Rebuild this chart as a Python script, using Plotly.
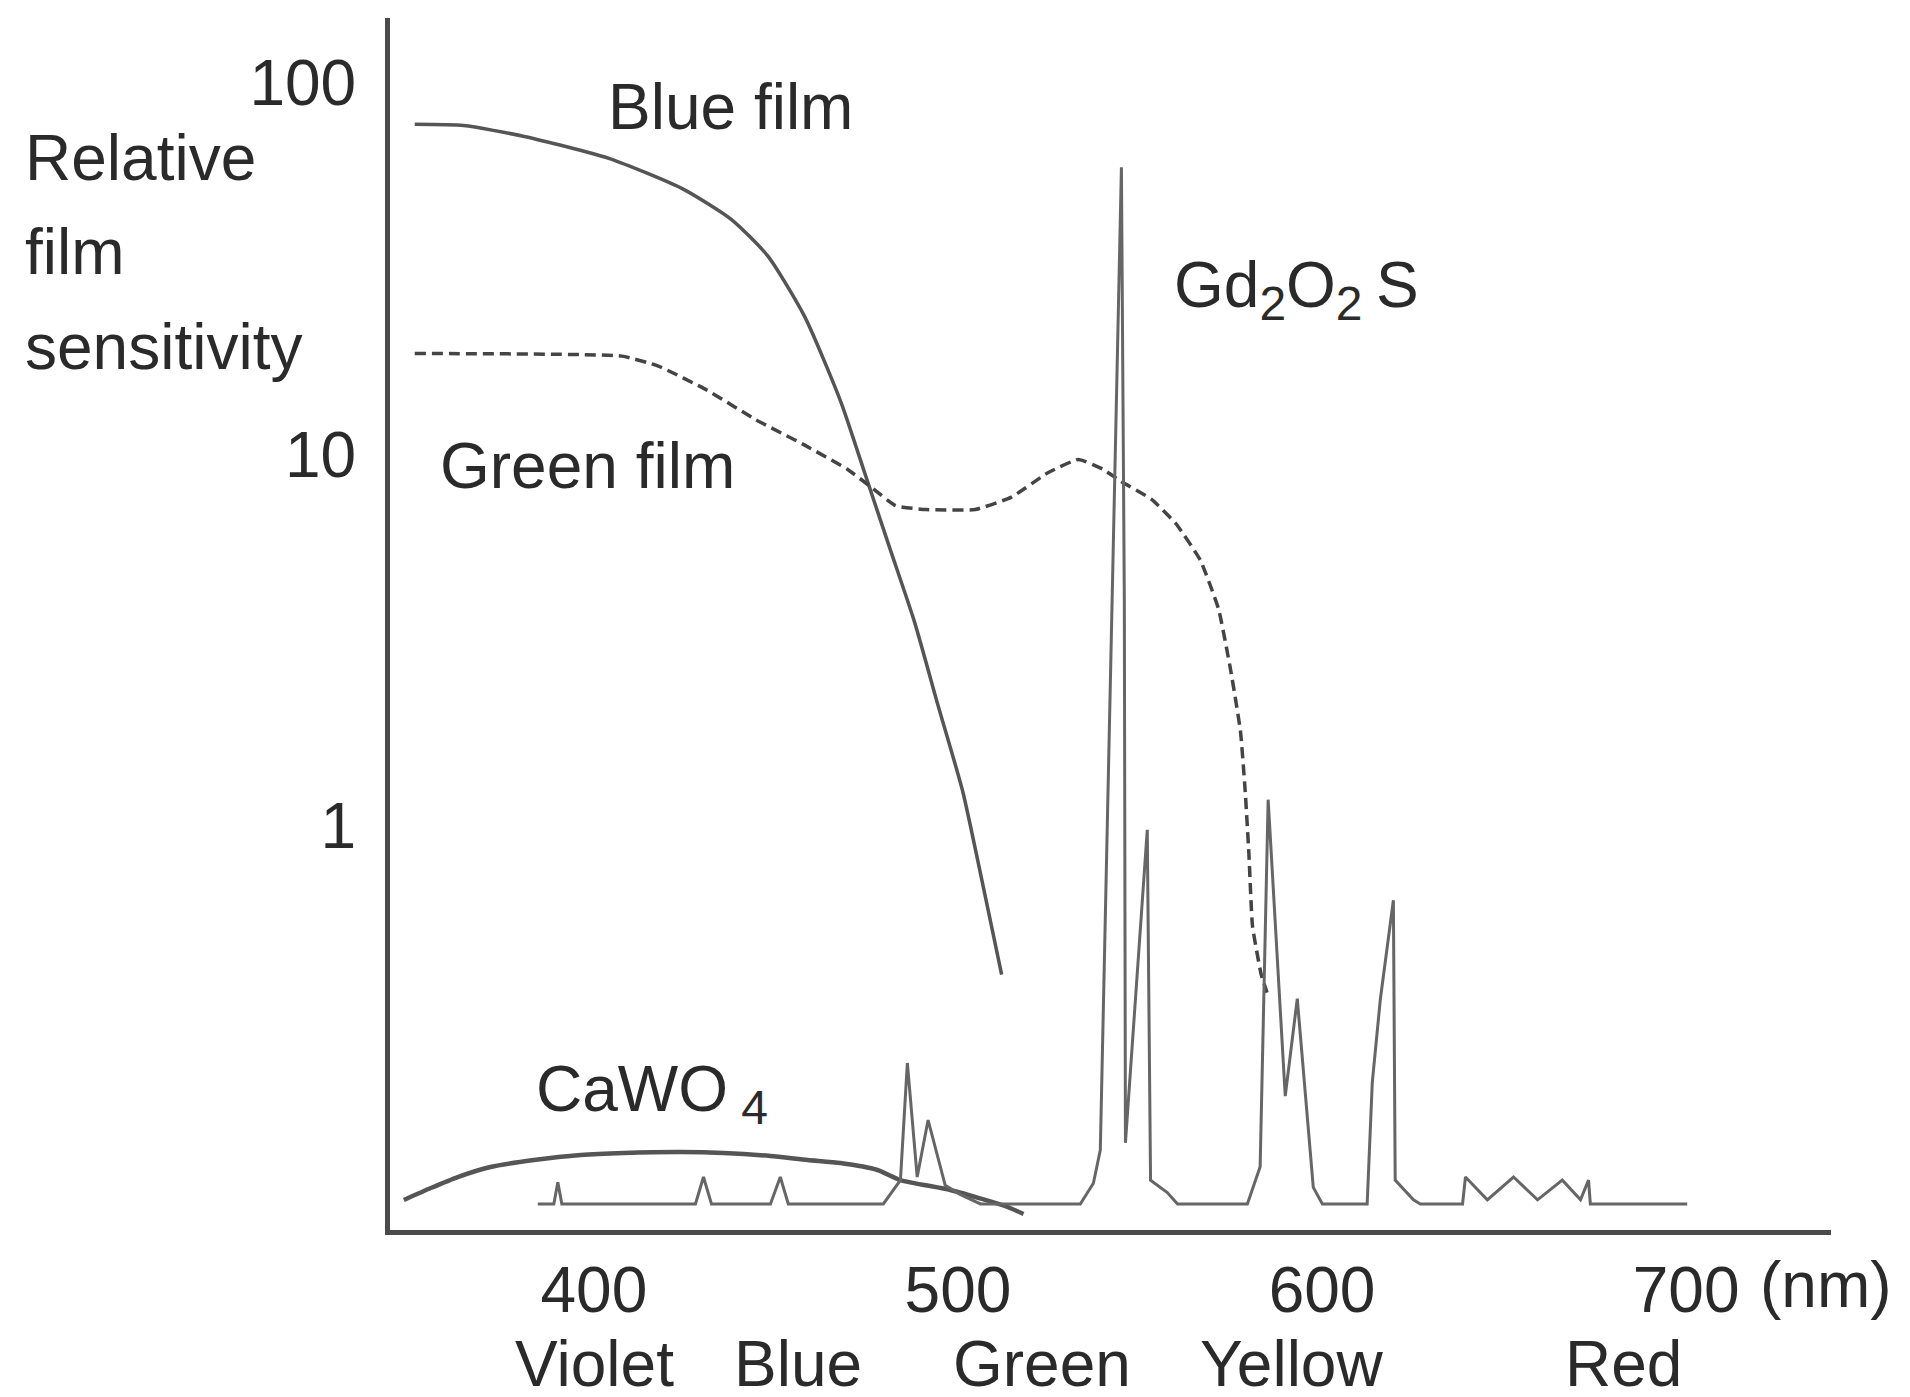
import plotly.graph_objects as go

# ---------------- data ----------------
# Film sensitivity curves: wavelength (nm) vs relative sensitivity (log axis)
blue_film_nm = [350.8, 364.2, 380.9, 404.3, 424.4, 437.8, 447.8, 457.9, 467.9,
                474.6, 481.3, 488.0, 494.6, 501.3, 506.4, 512.0]
blue_film_val = [77.4, 76.8, 71.8, 62.6, 51.9, 42.9, 34.2, 23.5, 13.8,
                 8.79, 5.59, 3.56, 2.10, 1.24, 0.728, 0.398]

green_film_nm = [350.8, 407.7, 417.7, 431.1, 444.5, 457.9, 469.6, 476.3, 482.9,
                 491.3, 504.7, 514.7, 524.7, 533.1, 539.8, 544.8, 553.2, 559.9,
                 566.6, 571.6, 574.9, 577.6, 578.9, 579.9, 580.9, 583.3, 584.9]
green_film_val = [18.7, 18.4, 17.3, 14.9, 12.4, 10.6, 9.13, 8.15, 7.28,
                  7.11, 7.11, 7.68, 8.93, 9.70, 9.13, 8.47, 7.57, 6.51,
                  5.19, 3.83, 2.63, 1.80, 1.24, 0.847, 0.538, 0.398, 0.356]

# Emission spectra (relative intensity, linear secondary axis, tallest peak = 100)
gd2o2s_nm = [384.6, 389.0, 390.1, 391.2, 427.9, 430.1, 432.3, 448.5, 451.2, 453.4,
             479.5, 484.2, 486.1, 488.8, 491.8, 496.5, 500.7, 506.2, 533.6, 537.2,
             539.1, 542.4, 544.9, 545.7, 546.0, 552.0, 552.9, 557.5, 560.3, 579.5,
             583.0, 585.2, 589.9, 593.2, 597.6, 600.1, 612.4, 613.8, 616.0, 619.6,
             620.1, 625.1, 627.0, 638.6, 639.4, 645.4, 652.6, 659.2, 666.0, 671.0,
             673.2, 673.7, 700.3]
gd2o2s_val = [0, 0, 2.1, 0, 0, 2.6, 0, 0, 2.6, 0,
              0, 2.3, 13.6, 2.6, 8.1, 1.8, 0.9, 0, 0, 2.0,
              5.2, 58.2, 100, 58.2, 5.9, 36.1, 2.3, 1.1, 0, 0,
              3.6, 39.0, 10.4, 19.8, 1.6, 0, 0, 11.7, 19.7, 29.3,
              2.3, 0.4, 0, 0, 2.6, 0.4, 2.6, 0.4, 2.3, 0.4,
              2.3, 0, 0]

cawo4_nm = [347.8, 355.2, 362.6, 371.6, 383.5, 396.4, 408.2, 423.8, 435.6,
            448.5, 458.7, 467.7, 477.9, 484.2, 497.9, 507.5, 513.6, 518.0]
cawo4_val = [0.39, 1.54, 2.60, 3.57, 4.24, 4.73, 4.92, 5.01, 4.92,
             4.63, 4.24, 3.95, 3.28, 2.31, 1.35, 0.39, -0.29, -0.96]

x_tick_vals = [400, 500, 600, 700]
x_tick_text = ["400", "500", "600", "700"]
y_tick_vals = [1, 10, 100]
y_tick_text = ["1", "10", "100"]

color_band_names = ["Violet", "Blue", "Green", "Yellow", "Red"]
color_band_nm = [400.3, 456.2, 523.1, 591.6, 682.9]

# ---------------- figure ----------------
FONT = "Liberation Sans, Arial, sans-serif"
TXT = "#2a2a2a"
LINE = "#555555"
FS = 64

fig = go.Figure()

fig.add_trace(go.Scatter(x=blue_film_nm, y=blue_film_val, mode="lines",
                         line=dict(color=LINE, width=3.5, shape="spline", smoothing=0.6),
                         yaxis="y", showlegend=False))
fig.add_trace(go.Scatter(x=green_film_nm, y=green_film_val, mode="lines",
                         line=dict(color="#444444", width=3.5, dash="11px,6px",
                                   shape="spline", smoothing=0.4),
                         yaxis="y", showlegend=False))
fig.add_trace(go.Scatter(x=cawo4_nm, y=cawo4_val, mode="lines",
                         line=dict(color="#555555", width=4.5, shape="spline", smoothing=0.6),
                         yaxis="y2", showlegend=False))
fig.add_trace(go.Scatter(x=gd2o2s_nm, y=gd2o2s_val, mode="lines",
                         line=dict(color="#666666", width=3),
                         yaxis="y2", showlegend=False))

annotations = []
def add_text(text, x, y, xref="x", yref="paper", xanchor="left", yanchor="middle", size=FS):
    annotations.append(dict(text=text, x=x, y=y, xref=xref, yref=yref,
                            xanchor=xanchor, yanchor=yanchor, showarrow=False,
                            font=dict(family=FONT, size=size, color=TXT)))

SUB = "<sub><span style='font-size:48px'>{}</span></sub>"
add_text("Gd" + SUB.format("2") + "O" + SUB.format("2 ") + "S", 558.7, 0.776)
add_text("CaWO" + SUB.format(" 4"), 383.6, 0.113)
add_text("Blue film", 403.3, 0.9266)
add_text("Green film", 357.2, 0.630)
add_text("Relative", -0.2545, 0.8845, xref="paper")
add_text("film", -0.2545, 0.807, xref="paper")
add_text("sensitivity", -0.2545, 0.7285, xref="paper")
add_text("(nm)", 738.3, -0.0457, xanchor="center")
for name, nm in zip(color_band_names, color_band_nm):
    add_text(name, nm, -0.1106, xanchor="center")

# The page body has an 8px margin: the figure is sized/offset to compensate.
fig.update_layout(
    width=1902, height=1389,
    margin=dict(l=382, r=79, t=10, b=167),
    paper_bgcolor="white", plot_bgcolor="white",
    font=dict(family=FONT, size=FS, color=TXT),
    xaxis=dict(range=[344.0, 739.8], showgrid=False, zeroline=False,
               showline=True, linecolor="#4a4a4a", linewidth=5,
               tickmode="array", tickvals=x_tick_vals, ticktext=x_tick_text,
               ticks="",
               tickfont=dict(family=FONT, size=FS, color=TXT)),
    yaxis=dict(type="log", range=[-1.0875, 2.175], showgrid=False, zeroline=False,
               showline=True, linecolor="#4a4a4a", linewidth=5,
               tickmode="array", tickvals=y_tick_vals, ticktext=y_tick_text,
               ticks="outside", ticklen=16, tickcolor="rgba(0,0,0,0)",
               tickfont=dict(family=FONT, size=FS, color=TXT)),
    yaxis2=dict(range=[-2.51, 114.4], overlaying="y", visible=False,
                showgrid=False, zeroline=False),
    annotations=annotations,
)

fig.write_html("out.html")
